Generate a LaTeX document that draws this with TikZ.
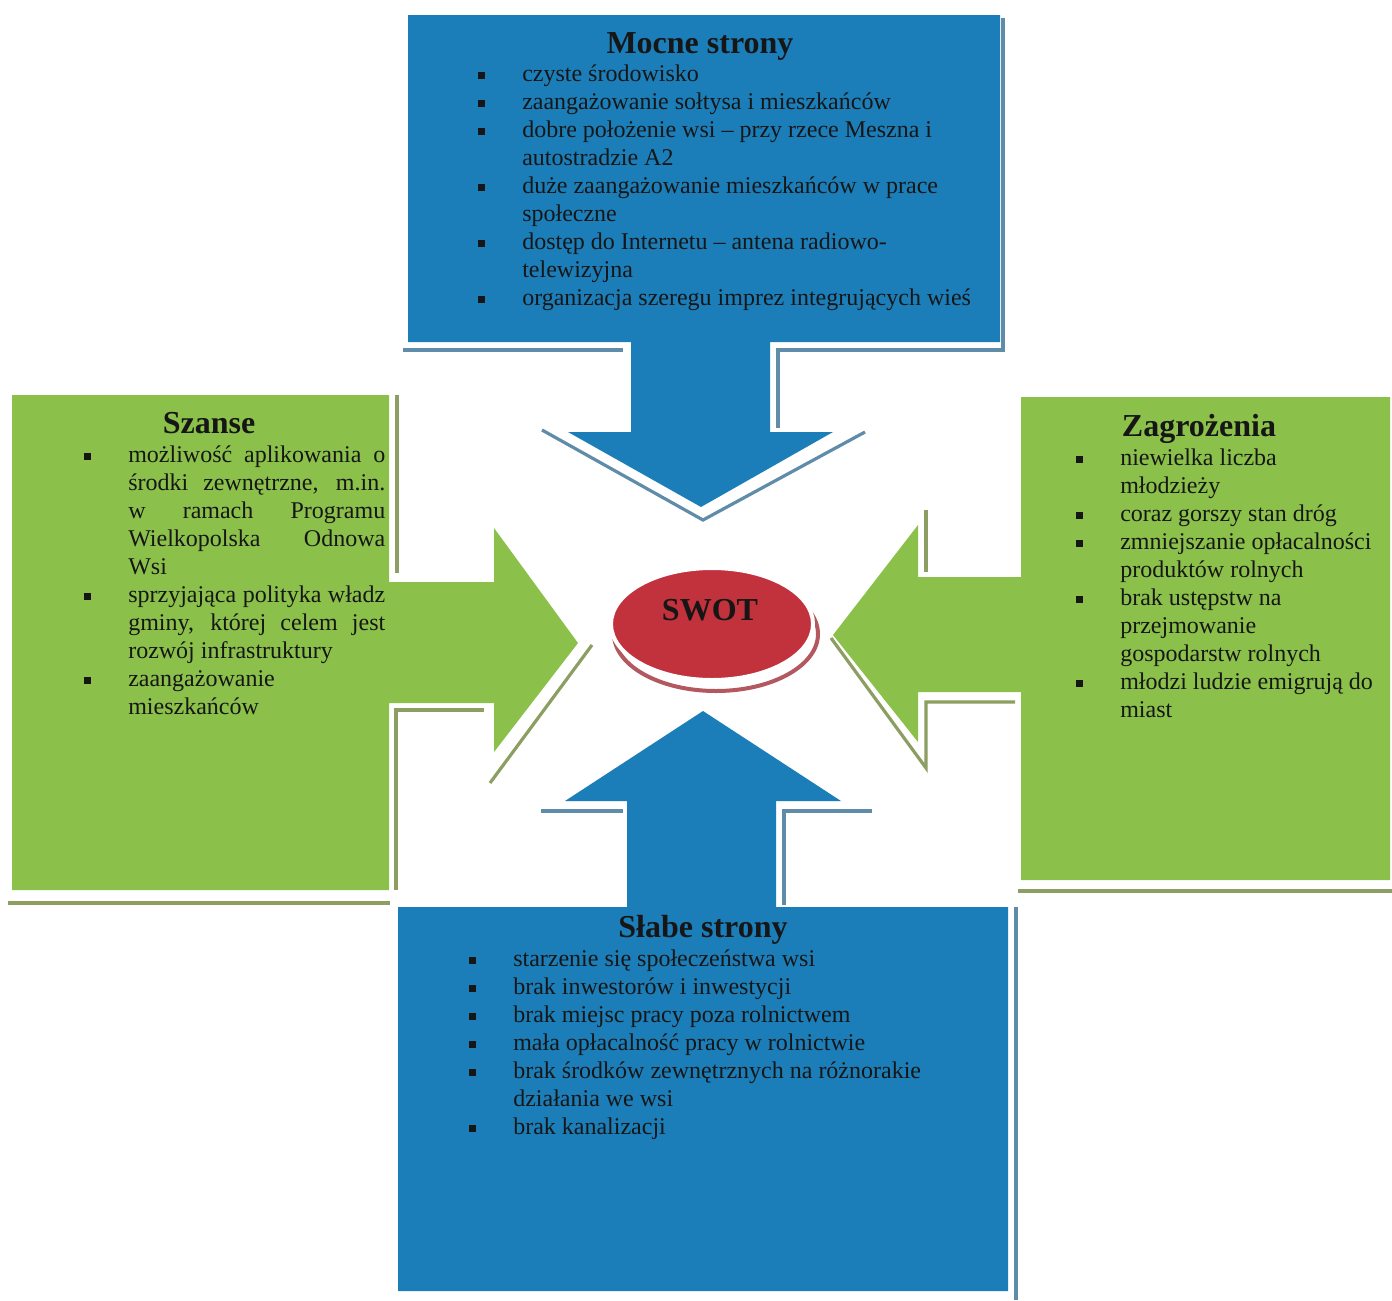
\documentclass[tikz,border=0pt]{standalone}
\usepackage{fontspec}
\setmainfont{Liberation Serif}
\usetikzlibrary{shapes.geometric}
\definecolor{bluefill}{RGB}{28,126,185}
\definecolor{greenfill}{RGB}{139,192,74}
\definecolor{blueshadow}{RGB}{95,140,168}
\definecolor{greenshadow}{RGB}{140,158,98}
\definecolor{swotred}{RGB}{193,50,60}
\definecolor{swotshadow}{RGB}{178,88,94}
\definecolor{txt}{RGB}{22,22,22}
\newcommand{\bul}{\llap{\rule[1.5pt]{5pt}{5pt}\hspace{28pt}}}
\newcommand{\jline}[1]{\makebox[192.75pt][s]{#1}}
\tikzset{
  titletext/.style={font=\fontsize{24}{28}\selectfont\bfseries, text=txt, inner sep=0pt, anchor=base},
  listtext/.style={font=\fontsize{18}{21}\selectfont, text=txt, inner sep=0pt, anchor=base west},
  shadowline/.style={line width=2.4pt},
}
\begin{document}
\begin{tikzpicture}[x=0.75pt,y=-0.75pt]
\useasboundingbox (0,0) rectangle (1392,1300);
\fill[white] (0,0) rectangle (1392,1300);

% ---------- shadows ----------
\draw[shadowline, blueshadow] (1003,18) -- (1003,350) -- (778,350) -- (778,428);
\draw[shadowline, blueshadow] (403,350) -- (623,350);
\draw[shadowline, blueshadow] (542,430) -- (703,520) -- (865,432);

\draw[shadowline, greenshadow] (397,395) -- (397,573);
\draw[shadowline, greenshadow] (484,710) -- (396,710) -- (396,890);
\draw[shadowline, greenshadow] (592,645) -- (490,783);
\draw[shadowline, greenshadow] (8,903) -- (390,903);

\draw[shadowline, greenshadow] (926,510) -- (926,572);
\draw[shadowline, greenshadow] (1015,702) -- (926,702) -- (926,768) -- (831,638);
\draw[shadowline, greenshadow] (1018,891) -- (1392,891);

\draw[shadowline, blueshadow] (541,811) -- (623,811);
\draw[shadowline, blueshadow] (872,811) -- (784,811) -- (784,905);
\draw[shadowline, blueshadow] (1016,907) -- (1016,1300);

% ---------- shapes ----------
\fill[bluefill] (408,15) -- (1000,15) -- (1000,342) -- (770,342) -- (770,432) -- (833,432)
  -- (701,507) -- (568,432) -- (631,432) -- (631,342) -- (408,342) -- cycle;
\fill[greenfill] (12,395) -- (389,395) -- (389,582) -- (494,582) -- (494,528) -- (578,643)
  -- (494,752) -- (494,703) -- (389,703) -- (389,890) -- (12,890) -- cycle;
\fill[greenfill] (1021,397) -- (1390,397) -- (1390,880) -- (1021,880) -- (1021,692) -- (918,692)
  -- (918,742) -- (833,635) -- (918,525) -- (918,577) -- (1021,577) -- cycle;
\fill[bluefill] (398,907) -- (627,907) -- (627,801) -- (565,801) -- (703,711) -- (841,801)
  -- (776,801) -- (776,907) -- (1008,907) -- (1008,1291) -- (398,1291) -- cycle;

% ---------- SWOT ----------
\draw[swotshadow, line width=3pt] (716,634) ellipse [x radius=76.5pt, y radius=42.75pt];
\node[ellipse, fill=swotred, draw=white, line width=3pt, minimum width=151.5pt, minimum height=84pt, inner sep=0pt] (swot) at (712,624) {};
\node[font=\fontsize{24}{28}\selectfont\bfseries, text=txt, inner sep=0pt] (swotlabel) at (710,610) {SWOT};

% ---------- texts ----------
\node[titletext] (mocneT) at (700,53) {Mocne strony};
\node[listtext] (mocneL) at (522,81) {\begin{tabular}[t]{@{}l@{}}
\bul czyste środowisko\\
\bul zaangażowanie sołtysa i mieszkańców\\
\bul dobre położenie wsi – przy rzece Meszna i\\
autostradzie A2\\
\bul duże zaangażowanie mieszkańców w prace\\
społeczne\\
\bul dostęp do Internetu – antena radiowo-\\
telewizyjna\\
\bul organizacja szeregu imprez integrujących wieś
\end{tabular}};

\node[titletext] (szanseT) at (209,433) {Szanse};
\node[listtext] (szanseL) at (128,462) {\begin{tabular}[t]{@{}l@{}}
\bul\jline{możliwość aplikowania o}\\
\jline{środki zewnętrzne, m.in.}\\
\jline{w ramach Programu}\\
\jline{Wielkopolska Odnowa}\\
Wsi\\
\bul\jline{sprzyjająca polityka władz}\\
\jline{gminy, której celem jest}\\
rozwój infrastruktury\\
\bul zaangażowanie\\
mieszkańców
\end{tabular}};

\node[titletext] (zagrT) at (1199,436) {Zagrożenia};
\node[listtext] (zagrL) at (1120,465) {\begin{tabular}[t]{@{}l@{}}
\bul niewielka liczba\\
młodzieży\\
\bul coraz gorszy stan dróg\\
\bul zmniejszanie opłacalności\\
produktów rolnych\\
\bul brak ustępstw na\\
przejmowanie\\
gospodarstw rolnych\\
\bul młodzi ludzie emigrują do\\
miast
\end{tabular}};

\node[titletext] (slabeT) at (703,937) {Słabe strony};
\node[listtext] (slabeL) at (513,966) {\begin{tabular}[t]{@{}l@{}}
\bul starzenie się społeczeństwa wsi\\
\bul brak inwestorów i inwestycji\\
\bul brak miejsc pracy poza rolnictwem\\
\bul mała opłacalność pracy w rolnictwie\\
\bul brak środków zewnętrznych na różnorakie\\
działania we wsi\\
\bul brak kanalizacji
\end{tabular}};
\end{tikzpicture}
\end{document}
